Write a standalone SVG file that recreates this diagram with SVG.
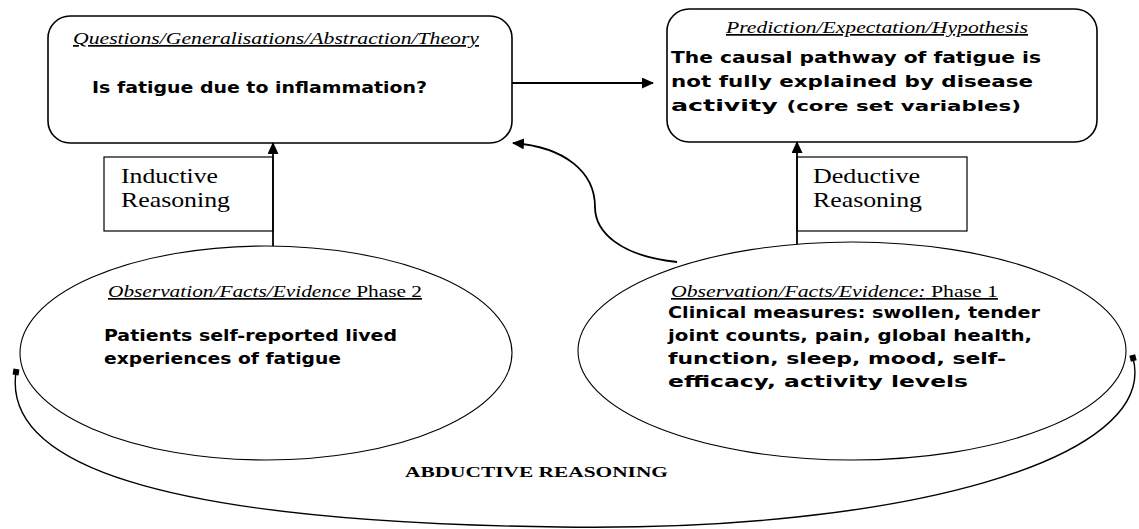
<svg xmlns="http://www.w3.org/2000/svg" width="1139" height="529" viewBox="0 0 1139 529">
<style>
.box{fill:#fff;stroke:#000;stroke-width:1.6}
.lbl{fill:#fff;stroke:#000;stroke-width:1.2}
.ell{fill:#fff;stroke:#000;stroke-width:1.1}
.t{font-family:"Liberation Serif","Times New Roman",serif;font-size:17px;font-style:italic;text-decoration:underline;fill:#000}
.n{font-style:normal}
.b{font-family:"DejaVu Sans","Liberation Sans",sans-serif;font-weight:bold;font-size:16px;fill:#000}
.r{font-family:"Liberation Serif","Times New Roman",serif;font-size:22px;fill:#000}
.a{font-family:"Liberation Serif","Times New Roman",serif;font-weight:bold;font-size:15px;fill:#000}
.c{fill:none;stroke:#000;stroke-width:1.8}
.ab{fill:none;stroke:#000;stroke-width:1.4}
</style>
<defs>
<marker id="ah" markerWidth="12" markerHeight="11" refX="11" refY="5.5" orient="auto" markerUnits="userSpaceOnUse"><path d="M0,0 L12,5.5 L0,11 z" fill="#000"/></marker>
<marker id="sq" markerWidth="8" markerHeight="8" refX="4" refY="4" orient="auto" markerUnits="userSpaceOnUse"><rect x="1" y="1" width="6" height="6" fill="#000"/></marker>
</defs>

<g id="theory">
<rect class="box" x="48" y="16" width="464" height="127" rx="22"/>
<text class="t" x="73" y="44" textLength="406" lengthAdjust="spacingAndGlyphs">Questions/Generalisations/Abstraction/Theory</text>
<text class="b" x="92" y="93" textLength="335" lengthAdjust="spacingAndGlyphs">Is fatigue due to inflammation?</text>
</g>

<g id="hypothesis">
<rect class="box" x="667" y="9" width="430" height="133" rx="22"/>
<text class="t" x="726" y="33" textLength="302" lengthAdjust="spacingAndGlyphs">Prediction/Expectation/Hypothesis</text>
<text class="b" x="671" y="63" textLength="370" lengthAdjust="spacingAndGlyphs">The causal pathway of fatigue is</text>
<text class="b" x="671" y="87" textLength="362" lengthAdjust="spacingAndGlyphs">not fully explained by disease</text>
<text class="b" x="671" y="111" textLength="350" lengthAdjust="spacingAndGlyphs">activity <tspan font-size="13.5">(core set variables)</tspan></text>
</g>

<g id="inductive">
<rect class="lbl" x="104" y="157" width="169" height="74"/>
<text class="r" x="121" y="183" textLength="97" lengthAdjust="spacingAndGlyphs">Inductive</text>
<text class="r" x="121" y="207" textLength="109" lengthAdjust="spacingAndGlyphs">Reasoning</text>
</g>

<g id="deductive">
<rect class="lbl" x="797" y="157" width="170" height="74"/>
<text class="r" x="813" y="183" textLength="107" lengthAdjust="spacingAndGlyphs">Deductive</text>
<text class="r" x="813" y="207" textLength="109" lengthAdjust="spacingAndGlyphs">Reasoning</text>
</g>

<g id="phase2">
<ellipse class="ell" cx="266" cy="353" rx="246" ry="107"/>
<text class="t" x="108" y="297" textLength="314" lengthAdjust="spacingAndGlyphs">Observation/Facts/Evidence<tspan class="n"> Phase 2</tspan></text>
<text class="b" x="104" y="341" textLength="293" lengthAdjust="spacingAndGlyphs">Patients self-reported lived</text>
<text class="b" x="104" y="364" textLength="237" lengthAdjust="spacingAndGlyphs">experiences of fatigue</text>
</g>

<g id="phase1">
<ellipse class="ell" cx="852" cy="351" rx="274" ry="109"/>
<text class="t" x="671" y="297" textLength="327" lengthAdjust="spacingAndGlyphs">Observation/Facts/Evidence:<tspan class="n"> Phase 1</tspan></text>
<text class="b" x="668" y="318" textLength="372" lengthAdjust="spacingAndGlyphs">Clinical measures: swollen, tender</text>
<text class="b" x="668" y="341" textLength="364" lengthAdjust="spacingAndGlyphs">joint counts, pain, global health,</text>
<text class="b" x="668" y="364" textLength="338" lengthAdjust="spacingAndGlyphs">function, sleep, mood, self-</text>
<text class="b" x="668" y="387" textLength="300" lengthAdjust="spacingAndGlyphs">efficacy, activity levels</text>
</g>

<g id="abductive-label">
<text class="a" x="405" y="477" textLength="263" lengthAdjust="spacingAndGlyphs">ABDUCTIVE REASONING</text>
</g>

<g id="connectors">
<path class="c" d="M512,83 H653" marker-end="url(#ah)"/>
<path class="c" d="M273,246 V143" marker-end="url(#ah)"/>
<path class="c" d="M797,244 V142" marker-end="url(#ah)"/>
<path class="c" d="M677,262 C620,256 595,232 595,207 C595,172 565,147 513,143" marker-end="url(#ah)"/>
<path class="ab" d="M16,372 C3,462 150,522 560,527 C900,532 1160,460 1133,358" marker-start="url(#sq)" marker-end="url(#sq)"/>
</g>
</svg>
